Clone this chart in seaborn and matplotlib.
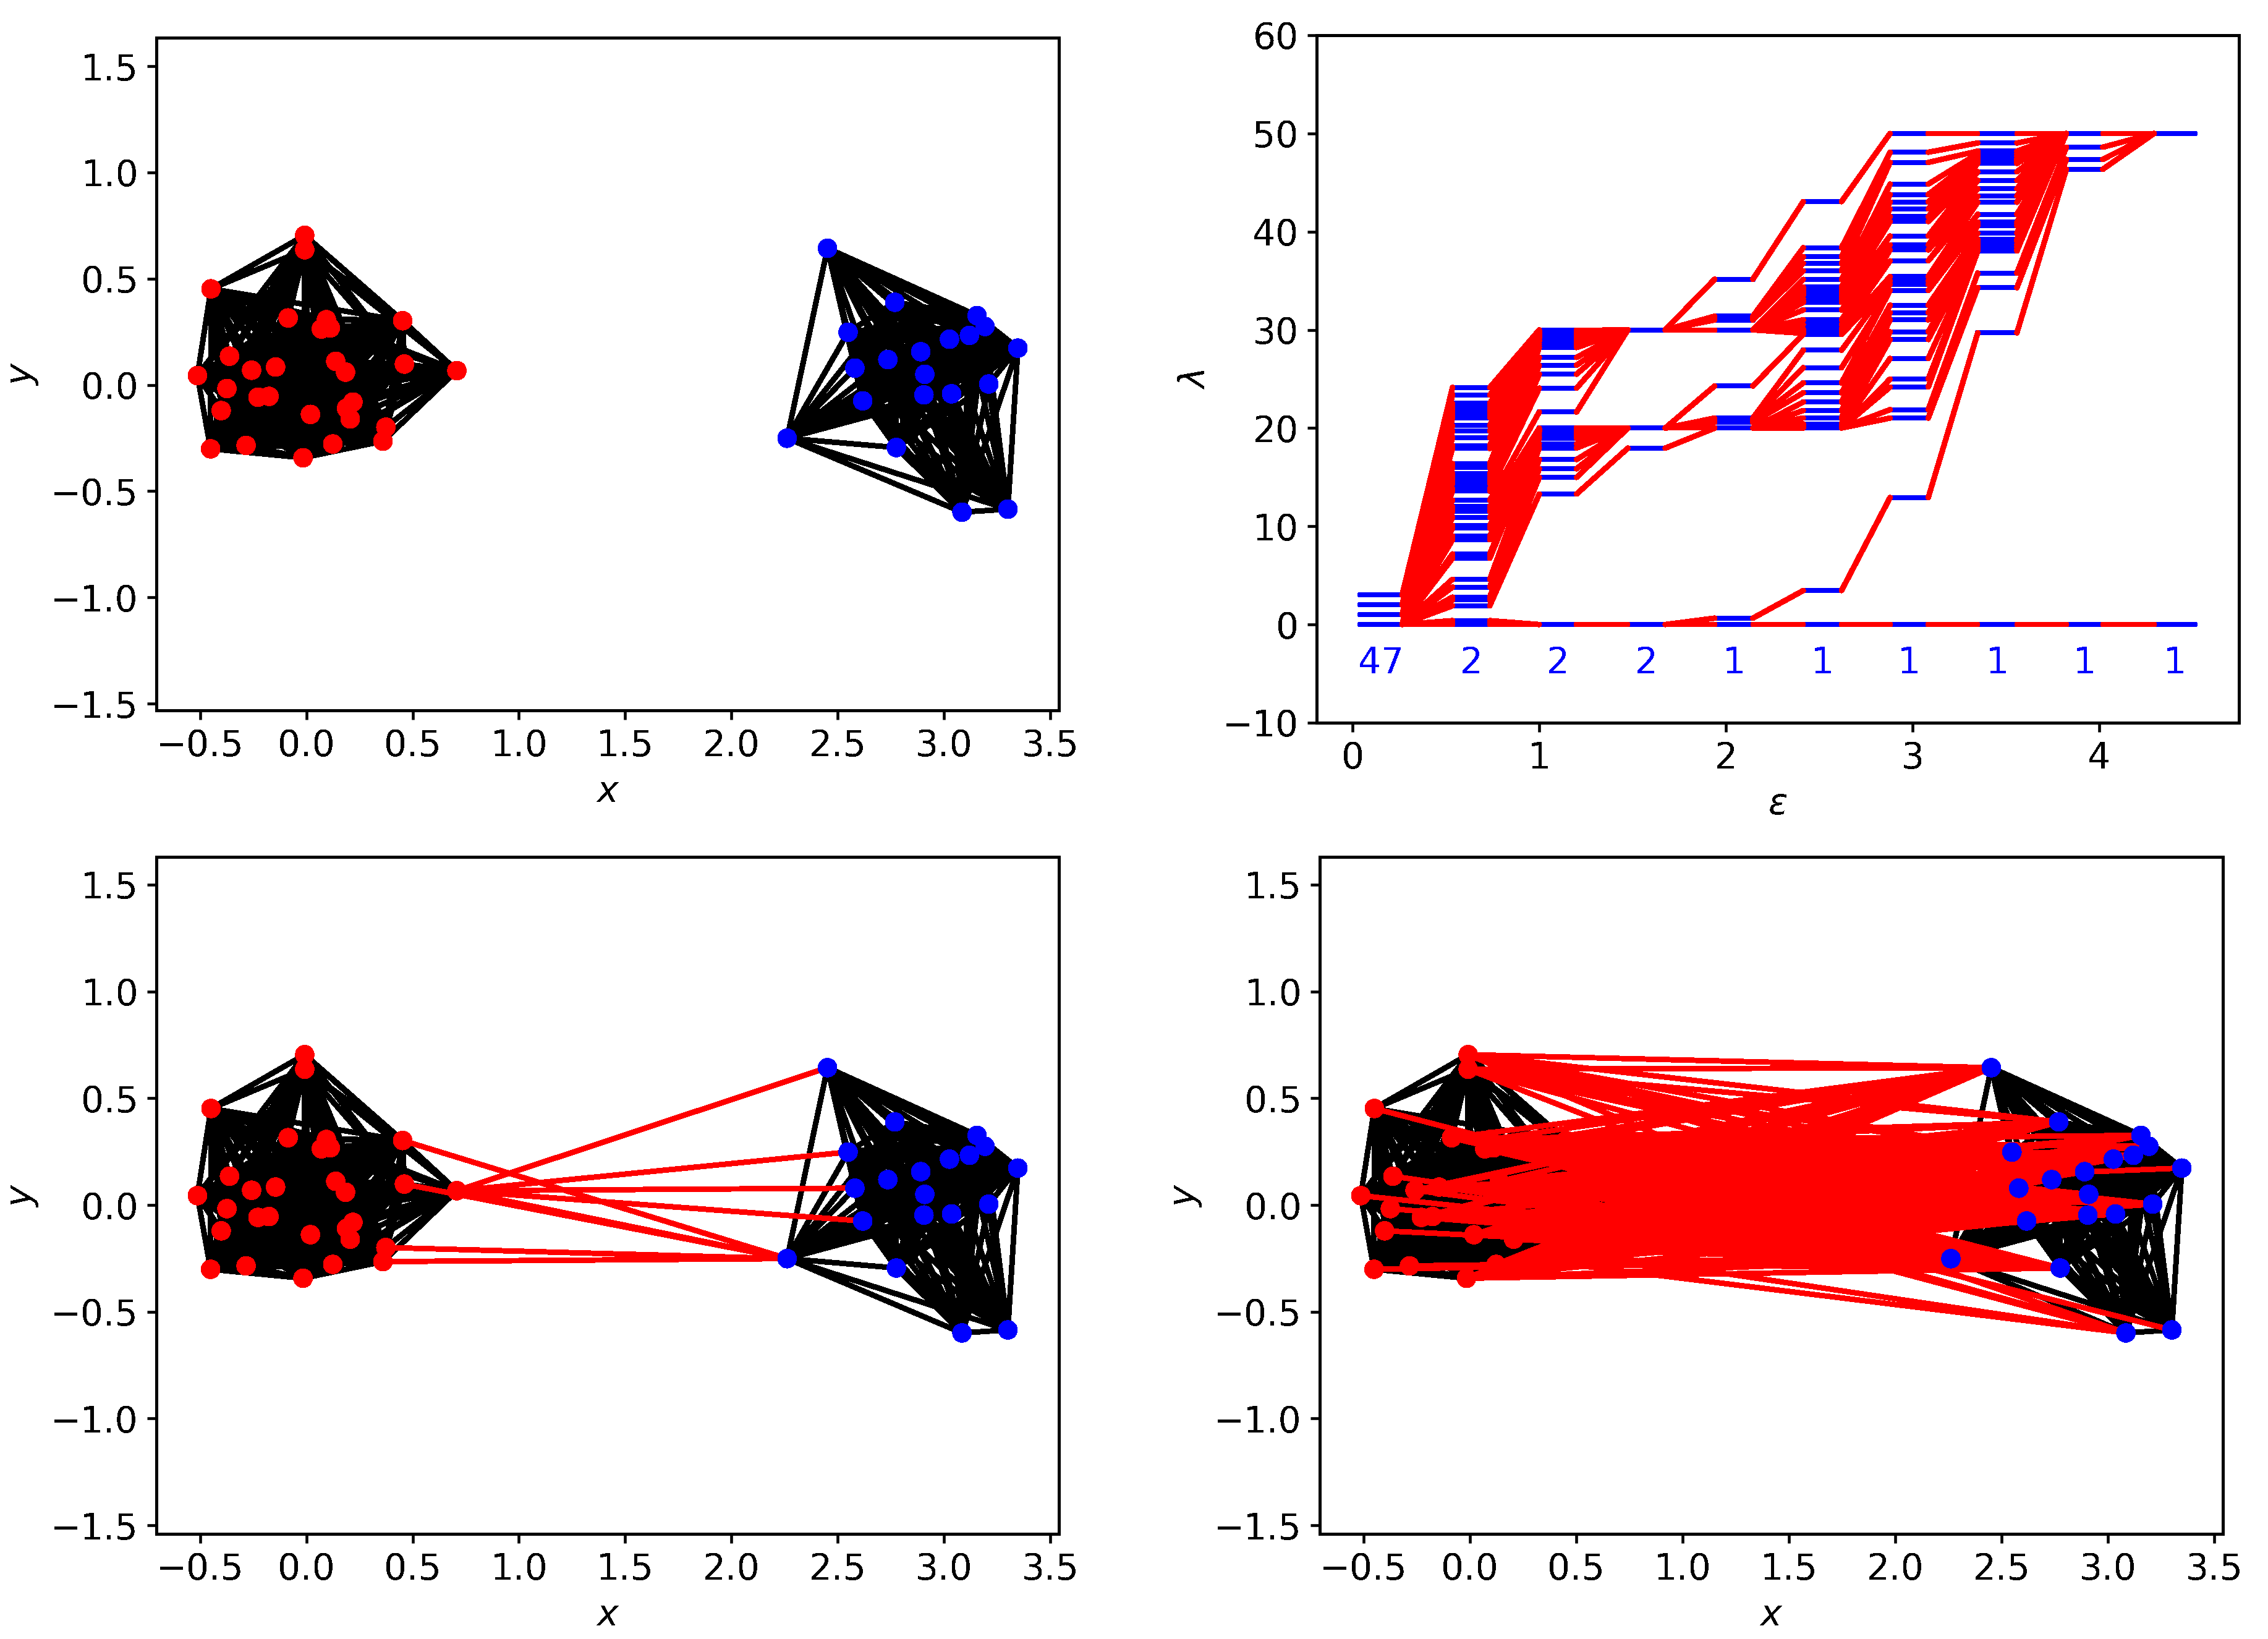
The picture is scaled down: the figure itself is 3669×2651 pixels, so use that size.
import itertools

import matplotlib
matplotlib.use("Agg")
import matplotlib.pyplot as plt
import numpy as np
import pandas as pd
import seaborn as sns

## Data

# node positions
red_x = [-0.008, -0.008, -0.449, -0.086, 0.094, 0.070, 0.112, 0.453, -0.362, -0.258,
         -0.145, 0.138, 0.184, 0.461, 0.708, -0.513, -0.374, -0.228, -0.176, -0.401,
         0.019, 0.219, 0.189, 0.206, 0.374, 0.360, -0.451, -0.284, 0.124, -0.016]
red_y = [0.704, 0.636, 0.452, 0.315, 0.307, 0.263, 0.268, 0.302, 0.135, 0.069,
         0.084, 0.111, 0.060, 0.098, 0.067, 0.044, -0.017, -0.058, -0.054, -0.121,
         -0.139, -0.081, -0.110, -0.160, -0.199, -0.265, -0.301, -0.285, -0.278, -0.343]
blue_x = [2.452, 2.769, 3.156, 3.193, 2.549, 3.026, 3.120, 3.348, 2.891, 2.736,
          2.581, 2.910, 3.211, 2.906, 3.036, 2.618, 2.262, 2.776, 3.085, 3.301]
blue_y = [0.643, 0.389, 0.326, 0.275, 0.248, 0.215, 0.233, 0.173, 0.156, 0.119,
          0.079, 0.050, 0.004, -0.047, -0.042, -0.075, -0.251, -0.295, -0.599, -0.585]

# edge length limits of the three graphs
eps_top = 1.55
eps_mid = 1.95
eps_far = 2.85

# eigenvalue levels in each epsilon bin
bin_start = [0.04, 0.535, 1.0, 1.475, 1.94, 2.415, 2.88, 3.35, 3.825, 4.295]
bin_end = [0.265, 0.735, 1.2, 1.675, 2.145, 2.62, 3.085, 3.56, 4.02, 4.515]
zero_counts = ["47", "2", "2", "2", "1", "1", "1", "1", "1", "1"]

level_1 = [0.0] * 47 + [1.0, 2.0, 3.0]
level_2 = [0.0, 0.40, 1.91, 2.51, 2.66, 2.79, 3.81, 4.61, 6.75, 6.98,
           7.19, 8.63, 8.82, 9.01, 9.81, 9.95, 10.10, 10.90, 11.50, 11.76,
           12.01, 12.66, 13.58, 13.70, 13.83, 14.35, 14.63, 14.92, 15.13, 15.36,
           15.97, 16.18, 16.39, 17.92, 18.06, 18.23, 19.01, 19.70, 20.26, 21.06,
           21.25, 21.40, 21.58, 21.77, 21.96, 22.15, 22.34, 22.53, 23.37, 24.14]
level_3 = [0.0, 0.0, 13.29, 14.98, 15.86, 16.80, 17.98, 18.40, 18.96, 19.1,
           19.3, 19.5, 19.6, 19.7, 19.8, 19.85, 19.9, 19.95, 20.0, 20.0,
           20.0, 21.64, 24.07, 25.49, 26.40, 27.20, 28.2, 28.4, 28.6, 28.8,
           28.9, 29.0, 29.1, 29.2, 29.3, 29.4, 29.5, 29.6, 29.65, 29.7,
           29.75, 29.8, 29.85, 29.9, 29.95, 30.0, 30.0, 30.0, 30.0, 30.0]
level_4 = [0.0, 0.0, 17.96] + [20.0] * 18 + [30.0] * 29
level_5 = [0.0, 0.65] + [20.0] * 14 + [20.58, 20.75, 20.90, 21.02, 24.29] + [30.0] * 24 + [
    31.01, 31.13, 31.26, 31.39, 35.16]
level_6 = [0.0, 3.46, 20.01, 20.01, 20.01, 20.01, 20.1, 20.2, 20.25, 20.3,
           20.35, 20.4, 20.43, 21.04, 21.79, 22.65, 23.6, 24.6, 26.15, 27.93,
           29.55, 29.65, 29.75, 29.85, 29.95, 30.0, 30.03, 30.07, 30.53, 31.02,
           32.02, 32.8, 32.9, 33.0, 33.2, 33.53, 33.6, 33.65, 33.8, 33.95,
           34.1, 34.2, 34.25, 34.37, 35.14, 36.02, 36.78, 37.45, 38.37, 43.06]
level_7 = [0.0, 12.93, 21.02, 21.88, 24.18, 25.0, 27.09, 29.02, 29.02, 29.8,
           29.8, 31.02, 31.02, 31.75, 31.75, 32.52, 32.52, 34.01, 34.01, 34.64,
           34.64, 34.99, 34.99, 35.42, 35.42, 37.03, 37.03, 38.14, 38.14, 38.66,
           38.66, 39.56, 39.56, 41.03, 41.03, 41.53, 41.53, 42.31, 42.31, 43.02,
           43.02, 43.78, 43.78, 44.84, 44.84, 47.05, 47.05, 48.09, 48.09, 50.0]
level_8 = [0.0, 29.7, 34.3, 35.79, 38.03, 38.03, 38.2, 38.45, 38.45, 38.7,
           38.97, 38.97, 39.1, 39.23, 39.23, 39.85, 39.85, 40.59, 40.59, 40.8,
           40.97, 40.97, 41.77, 41.77, 43.0, 43.0, 43.63, 43.63, 44.38, 44.38,
           45.22, 45.22, 46.1, 46.1, 46.94, 46.94, 47.08, 47.21, 47.21, 47.34,
           47.46, 47.46, 47.7, 47.94, 47.94, 48.2, 48.2, 49.03, 49.03, 50.0]
level_9 = [0.0, 46.35, 47.36, 48.6] + [50.0] * 46
level_10 = [0.0] + [50.0] * 49
levels = [level_1, level_2, level_3, level_4, level_5,
          level_6, level_7, level_8, level_9, level_10]

x_ticks = [-0.5, 0.0, 0.5, 1.0, 1.5, 2.0, 2.5, 3.0, 3.5]
y_ticks = [-1.5, -1.0, -0.5, 0.0, 0.5, 1.0, 1.5]

## Tables

nodes = pd.DataFrame({
    "x": red_x + blue_x,
    "y": red_y + blue_y,
    "cluster": ["red"] * len(red_x) + ["blue"] * len(blue_x),
})


def edge_table(limit, same_cluster):
    rows = []
    for a, b in itertools.combinations(nodes.index, 2):
        same = nodes.cluster[a] == nodes.cluster[b]
        dist = np.hypot(nodes.x[a] - nodes.x[b], nodes.y[a] - nodes.y[b])
        if same == same_cluster and dist <= limit:
            rows.append((a * 100 + b, nodes.x[a], nodes.y[a]))
            rows.append((a * 100 + b, nodes.x[b], nodes.y[b]))
    return pd.DataFrame(rows, columns=["edge", "x", "y"])


flat_rows = []
link_rows = []
for k, level in enumerate(levels):
    level = sorted(level)
    for i, lam in enumerate(level):
        flat_rows.append((k * 100 + i, bin_start[k], lam))
        flat_rows.append((k * 100 + i, bin_end[k], lam))
        if k < len(levels) - 1:
            link_rows.append((k * 100 + i, bin_end[k], lam))
            link_rows.append((k * 100 + i, bin_start[k + 1], sorted(levels[k + 1])[i]))
flat = pd.DataFrame(flat_rows, columns=["seg", "eps", "lam"])
link = pd.DataFrame(link_rows, columns=["seg", "eps", "lam"])

## Plots

sns.set_style("ticks", rc={
    "text.color": "black",
    "axes.edgecolor": "black",
    "axes.labelcolor": "black",
    "xtick.color": "black",
    "ytick.color": "black",
    "xtick.direction": "out",
    "ytick.direction": "out",
    "axes.spines.top": True,
    "axes.spines.right": True,
})
plt.rcParams["font.family"] = ["DejaVu Sans"]
plt.rcParams["axes.linewidth"] = 1.1
plt.rcParams["xtick.major.width"] = 1.1
plt.rcParams["ytick.major.width"] = 1.1
plt.rcParams["xtick.major.size"] = 3.5
plt.rcParams["ytick.major.size"] = 3.5
plt.rcParams["xtick.labelsize"] = 14
plt.rcParams["ytick.labelsize"] = 14
plt.rcParams["axes.labelsize"] = 14
plt.rcParams["mathtext.default"] = "it"
plt.rcParams["text.antialiased"] = False
plt.rcParams["patch.antialiased"] = False

W, H = 3670, 2651
line_w = 1.9
fig = plt.figure(figsize=(W / 300, H / 300), dpi=300)


def make_axes(left, top, right, bottom):
    return fig.add_axes([left / W, 1 - bottom / H, (right - left) / W, (bottom - top) / H])


def graph_panel(ax, black_limit, red_limit, ylim):
    sns.lineplot(data=edge_table(black_limit, True), x="x", y="y", units="edge", estimator=None,
                 sort=False, color="black", lw=line_w, antialiased=False, ax=ax)
    if red_limit is not None:
        sns.lineplot(data=edge_table(red_limit, False), x="x", y="y", units="edge", estimator=None,
                     sort=False, color="red", lw=line_w, antialiased=False, ax=ax)
    sns.scatterplot(data=nodes, x="x", y="y", hue="cluster", palette={"red": "red", "blue": "blue"},
                    s=54, linewidth=0, legend=False, antialiased=False, zorder=3, ax=ax)
    ax.set_xlim(-0.706, 3.541)
    ax.set_ylim(*ylim)
    ax.set_xticks(x_ticks)
    ax.set_yticks(y_ticks)
    ax.set_xlabel("$x$")
    ax.set_ylabel("$y$")


ax1 = make_axes(253, 61, 1713, 1149)
graph_panel(ax1, eps_top, None, (-1.532, 1.634))

ax3 = make_axes(253, 1386, 1713, 2481)
graph_panel(ax3, eps_mid, eps_mid, (-1.540, 1.630))

ax4 = make_axes(2135, 1386, 3596, 2481)
graph_panel(ax4, eps_far, eps_far, (-1.540, 1.630))

ax2 = make_axes(2130, 57, 3622, 1169)
sns.lineplot(data=flat, x="eps", y="lam", units="seg", estimator=None, sort=False,
             color="blue", lw=line_w, antialiased=False, ax=ax2)
sns.lineplot(data=link, x="eps", y="lam", units="seg", estimator=None, sort=False,
             color="red", lw=line_w, antialiased=False, ax=ax2)
for k, label in enumerate(zero_counts):
    ax2.text((bin_start[k] + bin_end[k]) / 2, -3.95, label, color="blue", fontsize=14,
             ha="center", va="center")
ax2.set_xlim(-0.193, 4.75)
ax2.set_ylim(-10, 60)
ax2.set_xticks([0, 1, 2, 3, 4])
ax2.set_yticks([-10, 0, 10, 20, 30, 40, 50, 60])
ax2.set_xlabel(r"$\epsilon$")
ax2.set_ylabel(r"$\lambda$")

fig.savefig("out.png", dpi=300)
